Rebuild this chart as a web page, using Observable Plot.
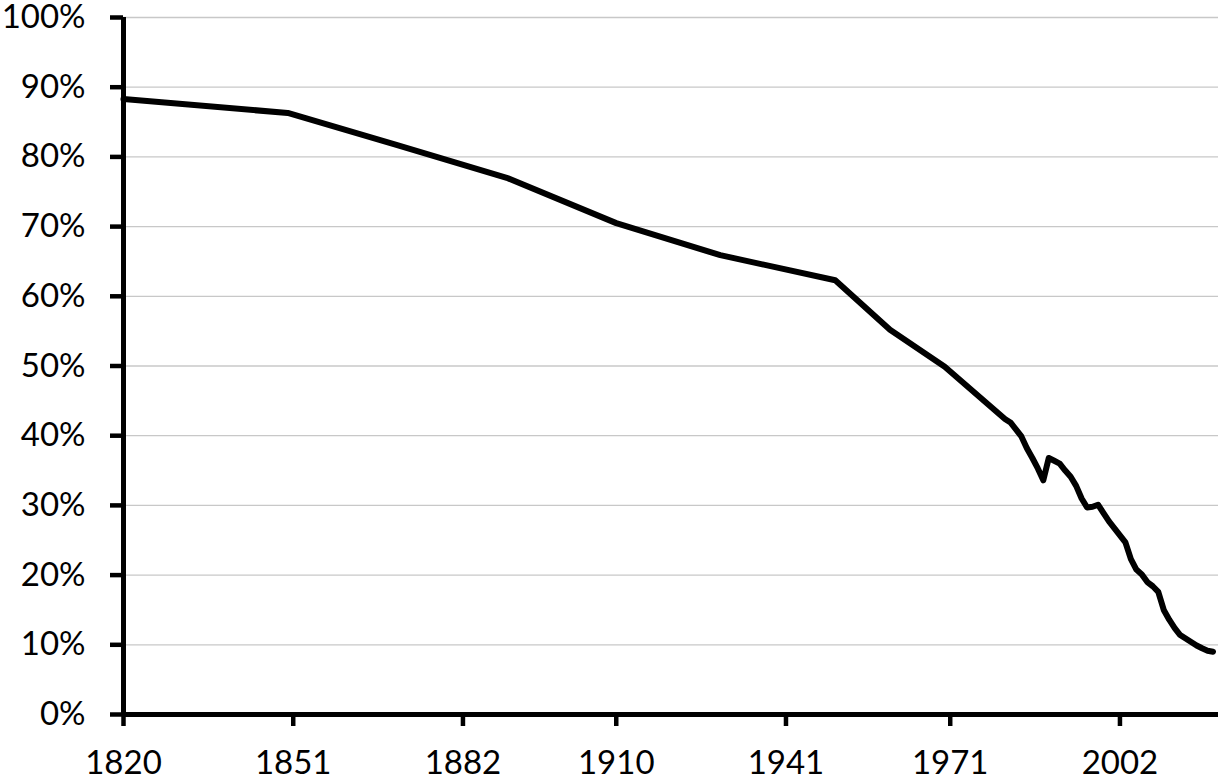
<!DOCTYPE html>
<html>
<head>
<meta charset="utf-8">
<script src="https://cdn.jsdelivr.net/npm/d3@7"></script>
<script src="https://cdn.jsdelivr.net/npm/@observablehq/plot@0.6"></script>
<style>
  html, body { margin: 0; padding: 0; background: #fff; overflow: hidden; }
  #chart { padding-top: 6px; }
  #chart svg { overflow: visible; display: block; }
</style>
</head>
<body>
<div id="chart"></div>
<script>
// Share of world population (%) by year
const years = [1820, 1850, 1870, 1890, 1910, 1929, 1950, 1960, 1970,
  1981, 1982, 1983, 1984, 1985, 1986, 1987, 1988, 1989, 1990,
  1991, 1992, 1993, 1994, 1995, 1996, 1997, 1998, 1999, 2000,
  2001, 2002, 2003, 2004, 2005, 2006, 2007, 2008, 2009, 2010,
  2011, 2012, 2013, 2014, 2015, 2016, 2017, 2018, 2019];
const shares = [88.3, 86.3, 81.7, 77.0, 70.5, 65.9, 62.3, 55.2, 49.9,
  42.4, 41.9, 40.9, 39.9, 38.2, 36.8, 35.3, 33.6, 36.8, 36.4,
  36.0, 35.0, 34.1, 32.8, 31.0, 29.7, 29.8, 30.1, 28.9, 27.7,
  26.7, 25.7, 24.7, 22.3, 20.8, 20.1, 19.0, 18.4, 17.6, 15.0,
  13.6, 12.4, 11.4, 10.9, 10.4, 9.9, 9.5, 9.15, 9.0];

const xTicks = [1820, 1851, 1882, 1910, 1941, 1971, 2002];
const yTicks = [0, 10, 20, 30, 40, 50, 60, 70, 80, 90, 100];
const xDomain = [1820, 2020];
const yDomain = [0, 100];

const data = years.map((year, i) => ({year, share: shares[i]}));

const chart = Plot.plot({
  width: 1227,
  height: 774,
  marginLeft: 123,
  marginRight: 9,
  marginTop: 11,
  marginBottom: 66,
  style: {fontFamily: "Lato, 'Liberation Sans', sans-serif", fontSize: "33px", color: "#000", background: "#fff", overflow: "visible"},
  x: {type: "linear", domain: xDomain},
  y: {type: "linear", domain: yDomain},
  marks: [
    Plot.gridY(yTicks.slice(1), {stroke: "#c8c8c8", strokeOpacity: 1, strokeWidth: 1.3}),
    Plot.axisY(yTicks, {tickSize: 13, tickPadding: 25, strokeWidth: 4.5, tickFormat: d => d + "%", label: null}),
    Plot.axisX(xTicks, {tickSize: 12, tickPadding: 24, strokeWidth: 4.5, tickFormat: d => String(d), label: null}),
    Plot.ruleY([yDomain[0]], {stroke: "#000", strokeWidth: 5}),
    Plot.ruleX([xDomain[0]], {stroke: "#000", strokeWidth: 5}),
    Plot.line(data, {x: "year", y: "share", stroke: "#000", strokeWidth: 6, strokeLinejoin: "round", strokeLinecap: "round"})
  ]
});
document.getElementById("chart").appendChild(chart);
</script>
</body>
</html>
